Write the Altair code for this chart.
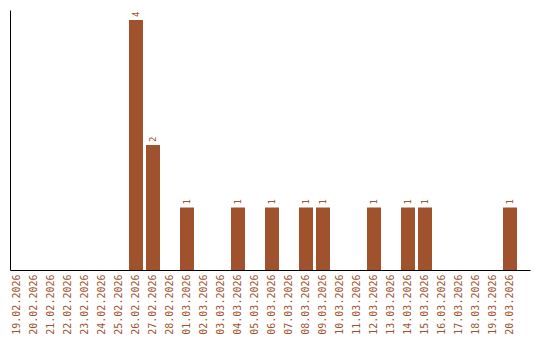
import altair as alt
import pandas as pd

dates = ["19.02.2026", "20.02.2026", "21.02.2026", "22.02.2026", "23.02.2026",
         "24.02.2026", "25.02.2026", "26.02.2026", "27.02.2026", "28.02.2026",
         "01.03.2026", "02.03.2026", "03.03.2026", "04.03.2026", "05.03.2026",
         "06.03.2026", "07.03.2026", "08.03.2026", "09.03.2026", "10.03.2026",
         "11.03.2026", "12.03.2026", "13.03.2026", "14.03.2026", "15.03.2026",
         "16.03.2026", "17.03.2026", "18.03.2026", "19.03.2026", "20.03.2026"]
values = [0, 0, 0, 0, 0, 0, 0, 4, 2, 0,
          1, 0, 0, 1, 0, 1, 0, 1, 1, 0,
          0, 1, 0, 1, 1, 0, 0, 0, 0, 1]

df = pd.DataFrame({"date": dates, "value": values})

BROWN = "#A0522D"
FONT = "DejaVu Sans Mono"

x = alt.X("date:N", sort=dates,
          scale=alt.Scale(paddingInner=0.1765, paddingOuter=0.3824, align=0),
          axis=alt.Axis(title=None, labelAngle=-90, ticks=False, grid=False,
                        domainColor="black", domainWidth=1, labelColor=BROWN,
                        labelFont=FONT, labelFontSize=10, labelPadding=4,
                        labelOverlap=False))
y = alt.Y("value:Q", scale=alt.Scale(domain=[0, 4.16], nice=False, zero=True),
          axis=alt.Axis(title=None, labels=False, ticks=False, grid=False,
                        domainColor="black", domainWidth=1))

bars = alt.Chart(df).mark_bar(color=BROWN).encode(x=x, y=y)

labels = alt.Chart(df).transform_filter("datum.value > 0").mark_text(
    angle=270, align="left", baseline="middle", dx=3,
    font=FONT, fontSize=9, color=BROWN
).encode(x=x, y=y, text=alt.Text("value:Q"))

chart = (bars + labels).properties(
    width=520, height=260,
    background="white",
    autosize=alt.AutoSizeParams(type="none"),
    padding={"left": 10, "top": 10, "right": 10, "bottom": 70},
).configure_view(strokeWidth=0, stroke="transparent")

chart.save("out.html", embed_options={"renderer": "svg", "actions": False})
